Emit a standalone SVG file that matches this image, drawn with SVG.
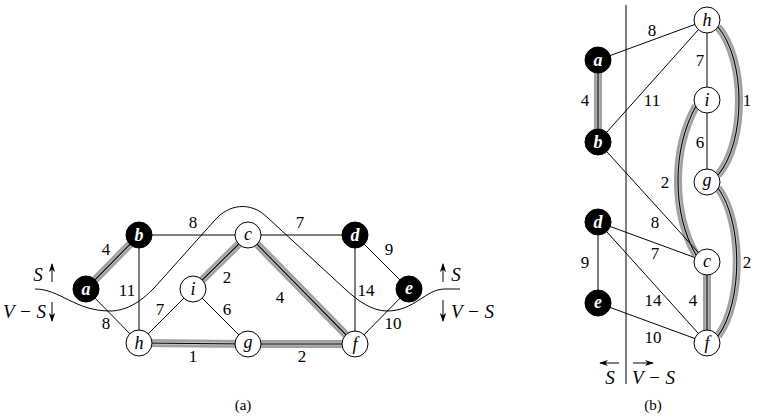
<svg xmlns="http://www.w3.org/2000/svg" width="765" height="417" viewBox="0 0 765 417" font-family="'Liberation Serif', 'Times New Roman', 'DejaVu Serif', serif">
<defs>
<marker id="ah" viewBox="0 0 10 10" refX="9" refY="5" markerWidth="9" markerHeight="9" markerUnits="userSpaceOnUse" orient="auto">
<path d="M0,1.5 L10,5 L0,8.5 L3,5 Z" fill="#000"/>
</marker>
</defs>
<style>
.e{stroke:#000;stroke-width:1;fill:none}
.m1{stroke:#a0a0a0;stroke-width:8;fill:none}
.m2{stroke:#c4c4c4;stroke-width:3;fill:none}
.m3{stroke:#000;stroke-width:1.1;fill:none}
.cut{stroke:#000;stroke-width:1;fill:none}
.w circle{fill:#fff;stroke:#000;stroke-width:1}
.k circle{fill:#000;stroke:#000;stroke-width:1}
.w text{font-style:italic;font-size:18px;fill:#000;text-anchor:middle}
.k text{font-style:italic;font-weight:bold;font-size:18px;fill:#fff;text-anchor:middle}
.l{font-size:17px;fill:#000;text-anchor:middle}
.s{font-style:italic;font-size:19px;fill:#000}
.cap{font-size:15px;fill:#000;text-anchor:middle}
.ar{stroke:#000;stroke-width:1;fill:none;marker-end:url(#ah)}
</style>
<rect width="765" height="417" fill="#fff"/>

<g id="connectors">
<g id="a-mst">
<path class="m1" d="M86,289 L139,235 M193,289 L248,235 M248,235 L355,344 M139,343 L248,344 L355,344"/>
<path class="m2" d="M86,289 L139,235 M193,289 L248,235 M248,235 L355,344 M139,343 L248,344 L355,344"/>
<path class="m3" d="M86,289 L139,235 M193,289 L248,235 M248,235 L355,344 M139,343 L248,344 L355,344"/>
</g>
<path class="e" d="M86,289 L139,343 M139,235 L248,235 M139,235 L139,343 M139,343 L193,289 M193,289 L248,344 M248,235 L355,235 M355,235 L355,344 M355,235 L409,289 M409,289 L355,344"/>
<g id="b-mst">
<path class="m1" d="M598,60 L598,142 M718,27 C746,60 746,142 718,175 M696,106 C672,150 672,212 696,255 M718,188 C743,222 743,302 718,336 M707,262 L707,343"/>
<path class="m2" d="M598,60 L598,142 M718,27 C746,60 746,142 718,175 M696,106 C672,150 672,212 696,255 M718,188 C743,222 743,302 718,336 M707,262 L707,343"/>
<path class="m3" d="M598,60 L598,142 M718,27 C746,60 746,142 718,175 M696,106 C672,150 672,212 696,255 M718,188 C743,222 743,302 718,336 M707,262 L707,343"/>
</g>
<path class="e" d="M598,60 L707,20 M598,142 L707,20 M707,20 L707,100 M707,100 L707,182 M598,142 L707,262 M598,222 L707,262 M598,222 L598,303 M598,222 L707,343 M598,303 L707,343"/>
</g>

<path class="cut" d="M35,289 C60,289 75,311 110,311 C125,311 140,303 155,287 L215,220 C228,205 250,200 268,218 L345,289 C358,301 372,311 387,311 C415,311 425,289 445,289 L460,289"/>
<path class="cut" d="M626,5 L626,384"/>

<path class="ar" d="M52,282 L52,264"/>
<path class="ar" d="M52,302 L52,321"/>
<path class="ar" d="M443,282 L443,264"/>
<path class="ar" d="M443,300 L443,321"/>
<path class="ar" d="M619,363 L600,363"/>
<path class="ar" d="M633,363 L653,363"/>

<text class="s" x="38" y="281" text-anchor="middle">S</text>
<text class="s" x="46" y="318" text-anchor="end">V − S</text>
<text class="s" x="456" y="281" text-anchor="middle">S</text>
<text class="s" x="451" y="318">V − S</text>
<text class="s" x="610" y="384" text-anchor="middle">S</text>
<text class="s" x="632" y="384">V − S</text>

<g id="labels-a">
<text class="l" x="106" y="255">4</text>
<text class="l" x="193" y="228">8</text>
<text class="l" x="127" y="296">11</text>
<text class="l" x="106" y="329">8</text>
<text class="l" x="160" y="315">7</text>
<text class="l" x="193" y="362">1</text>
<text class="l" x="227" y="283">2</text>
<text class="l" x="227" y="315">6</text>
<text class="l" x="280" y="303">4</text>
<text class="l" x="300" y="228">7</text>
<text class="l" x="302" y="362">2</text>
<text class="l" x="366" y="296">14</text>
<text class="l" x="389" y="255">9</text>
<text class="l" x="393" y="329">10</text>
</g>
<g id="labels-b">
<text class="l" x="652" y="36">8</text>
<text class="l" x="700" y="66">7</text>
<text class="l" x="585" y="106">4</text>
<text class="l" x="652" y="106">11</text>
<text class="l" x="747" y="106">1</text>
<text class="l" x="700" y="148">6</text>
<text class="l" x="665" y="188">2</text>
<text class="l" x="655" y="228">8</text>
<text class="l" x="655" y="259">7</text>
<text class="l" x="585" y="268">9</text>
<text class="l" x="747" y="268">2</text>
<text class="l" x="653" y="306">14</text>
<text class="l" x="693" y="306">4</text>
<text class="l" x="653" y="343">10</text>
</g>

<g id="node-a1" class="k"><circle cx="86" cy="289" r="13"/><text x="86" y="295">a</text></g>
<g id="node-b1" class="k"><circle cx="139" cy="235" r="13"/><text x="139" y="241">b</text></g>
<g id="node-c1" class="w"><circle cx="248" cy="235" r="13"/><text x="248" y="240">c</text></g>
<g id="node-d1" class="k"><circle cx="355" cy="235" r="13"/><text x="355" y="241">d</text></g>
<g id="node-e1" class="k"><circle cx="409" cy="289" r="13"/><text x="409" y="294">e</text></g>
<g id="node-f1" class="w"><circle cx="355" cy="344" r="13"/><text x="355" y="350">f</text></g>
<g id="node-g1" class="w"><circle cx="248" cy="344" r="13"/><text x="248" y="348">g</text></g>
<g id="node-h1" class="w"><circle cx="139" cy="343" r="13"/><text x="139" y="349">h</text></g>
<g id="node-i1" class="w"><circle cx="193" cy="289" r="13"/><text x="193" y="295">i</text></g>

<g id="node-h2" class="w"><circle cx="707" cy="20" r="13"/><text x="707" y="26">h</text></g>
<g id="node-a2" class="k"><circle cx="598" cy="60" r="13"/><text x="598" y="66">a</text></g>
<g id="node-i2" class="w"><circle cx="707" cy="100" r="13"/><text x="707" y="106">i</text></g>
<g id="node-b2" class="k"><circle cx="598" cy="142" r="13"/><text x="598" y="148">b</text></g>
<g id="node-g2" class="w"><circle cx="707" cy="182" r="13"/><text x="707" y="186">g</text></g>
<g id="node-d2" class="k"><circle cx="598" cy="222" r="13"/><text x="598" y="228">d</text></g>
<g id="node-c2" class="w"><circle cx="707" cy="262" r="13"/><text x="707" y="267">c</text></g>
<g id="node-e2" class="k"><circle cx="598" cy="303" r="13"/><text x="598" y="308">e</text></g>
<g id="node-f2" class="w"><circle cx="707" cy="343" r="13"/><text x="707" y="349">f</text></g>

<text class="cap" x="243" y="410">(a)</text>
<text class="cap" x="653" y="410">(b)</text>
</svg>
